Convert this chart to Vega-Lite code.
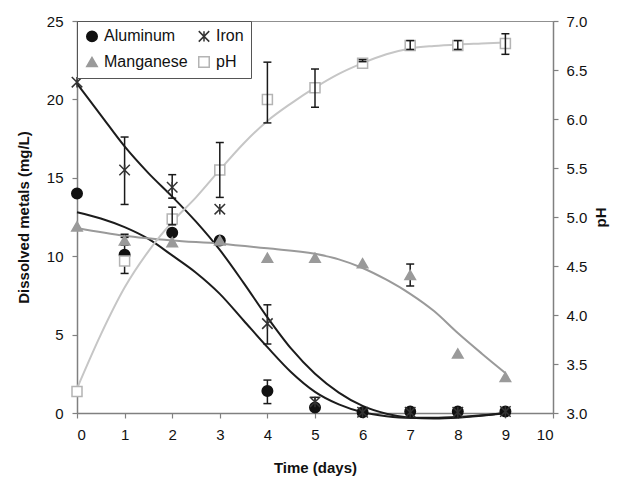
{
  "$schema": "https://vega.github.io/schema/vega-lite/v6.json",
  "width": 476,
  "height": 392,
  "autosize": {"type": "none"},
  "padding": {"left": 77, "top": 21, "right": 67, "bottom": 73},
  "config": {
    "font": "Liberation Sans",
    "view": {"stroke": "#909090", "strokeWidth": 1},
    "legend": {
      "gridAlign": "all",
      "labelLimit": 400,
      "columnPadding": 7,
      "rowPadding": 8
    },
    "axis": {
      "labelFont": "Liberation Sans",
      "labelFontSize": 15,
      "labelColor": "#111111",
      "titleFont": "Liberation Sans",
      "titleFontSize": 15,
      "titleFontWeight": "bold",
      "titleColor": "#111111",
      "domainColor": "#808080",
      "domainWidth": 1.5,
      "tickColor": "#808080",
      "tickWidth": 1.2,
      "tickSize": 5,
      "grid": false
    }
  },
  "datasets": {
    "pts": [
      {"series": "Aluminum", "t": 0, "v": 14.0},
      {"series": "Aluminum", "t": 1, "v": 10.1},
      {"series": "Aluminum", "t": 2, "v": 11.5},
      {"series": "Aluminum", "t": 3, "v": 11.0},
      {"series": "Aluminum", "t": 4, "v": 1.4},
      {"series": "Aluminum", "t": 5, "v": 0.35},
      {"series": "Aluminum", "t": 6, "v": 0.05},
      {"series": "Aluminum", "t": 7, "v": 0.1},
      {"series": "Aluminum", "t": 8, "v": 0.1},
      {"series": "Aluminum", "t": 9, "v": 0.1},
      {"series": "Iron", "t": 0, "v": 21.1},
      {"series": "Iron", "t": 1, "v": 15.5},
      {"series": "Iron", "t": 2, "v": 14.4},
      {"series": "Iron", "t": 3, "v": 13.0},
      {"series": "Iron", "t": 4, "v": 5.7},
      {"series": "Iron", "t": 5, "v": 0.7},
      {"series": "Iron", "t": 6, "v": 0.05},
      {"series": "Iron", "t": 7, "v": 0.05},
      {"series": "Iron", "t": 8, "v": 0.05},
      {"series": "Iron", "t": 9, "v": 0.1},
      {"series": "Manganese", "t": 0, "v": 11.9},
      {"series": "Manganese", "t": 1, "v": 11.0},
      {"series": "Manganese", "t": 2, "v": 10.9},
      {"series": "Manganese", "t": 3, "v": 11.0},
      {"series": "Manganese", "t": 4, "v": 9.9},
      {"series": "Manganese", "t": 5, "v": 9.9},
      {"series": "Manganese", "t": 6, "v": 9.55},
      {"series": "Manganese", "t": 7, "v": 8.8},
      {"series": "Manganese", "t": 8, "v": 3.8},
      {"series": "Manganese", "t": 9, "v": 2.3}
    ],
    "ph": [
      {"series": "pH", "t": 0, "v": 3.22},
      {"series": "pH", "t": 1, "v": 4.55},
      {"series": "pH", "t": 2, "v": 4.98},
      {"series": "pH", "t": 3, "v": 5.48},
      {"series": "pH", "t": 4, "v": 6.2},
      {"series": "pH", "t": 5, "v": 6.32},
      {"series": "pH", "t": 6, "v": 6.57},
      {"series": "pH", "t": 7, "v": 6.75},
      {"series": "pH", "t": 8, "v": 6.75},
      {"series": "pH", "t": 9, "v": 6.77}
    ],
    "merr": [
      {"series": "Aluminum", "t": 1, "lo": 8.9, "hi": 11.2},
      {"series": "Aluminum", "t": 4, "lo": 0.6, "hi": 2.1},
      {"series": "Iron", "t": 1, "lo": 13.3, "hi": 17.6},
      {"series": "Iron", "t": 2, "lo": 13.7, "hi": 15.2},
      {"series": "Iron", "t": 4, "lo": 4.4, "hi": 6.9},
      {"series": "Iron", "t": 5, "lo": 0.3, "hi": 1.0},
      {"series": "Manganese", "t": 1, "lo": 10.7, "hi": 11.4},
      {"series": "Manganese", "t": 7, "lo": 8.1, "hi": 9.5}
    ],
    "perr": [
      {"series": "pH", "t": 2, "lo": 4.92, "hi": 5.1},
      {"series": "pH", "t": 3, "lo": 5.2, "hi": 5.76},
      {"series": "pH", "t": 4, "lo": 5.96, "hi": 6.58},
      {"series": "pH", "t": 5, "lo": 6.12, "hi": 6.51},
      {"series": "pH", "t": 6, "lo": 6.585, "hi": 6.605},
      {"series": "pH", "t": 7, "lo": 6.71, "hi": 6.8},
      {"series": "pH", "t": 8, "lo": 6.71, "hi": 6.8},
      {"series": "pH", "t": 9, "lo": 6.66, "hi": 6.87}
    ],
    "mfit": [
      {"series": "Aluminum", "t": 0, "v": 12.8},
      {"series": "Aluminum", "t": 0.5, "v": 12.4},
      {"series": "Aluminum", "t": 1, "v": 11.85},
      {"series": "Aluminum", "t": 1.5, "v": 11.1},
      {"series": "Aluminum", "t": 2, "v": 10.05},
      {"series": "Aluminum", "t": 2.5, "v": 8.95},
      {"series": "Aluminum", "t": 3, "v": 7.6},
      {"series": "Aluminum", "t": 3.5, "v": 5.9},
      {"series": "Aluminum", "t": 4, "v": 4.2},
      {"series": "Aluminum", "t": 4.5, "v": 2.6},
      {"series": "Aluminum", "t": 5, "v": 1.35},
      {"series": "Aluminum", "t": 5.5, "v": 0.55},
      {"series": "Aluminum", "t": 6, "v": 0.05},
      {"series": "Aluminum", "t": 6.5, "v": -0.2},
      {"series": "Aluminum", "t": 7, "v": -0.3},
      {"series": "Aluminum", "t": 7.5, "v": -0.3},
      {"series": "Aluminum", "t": 8, "v": -0.25},
      {"series": "Aluminum", "t": 8.5, "v": -0.15},
      {"series": "Aluminum", "t": 9, "v": 0.0},
      {"series": "Iron", "t": 0, "v": 21.0},
      {"series": "Iron", "t": 0.5, "v": 19.0},
      {"series": "Iron", "t": 1, "v": 17.0},
      {"series": "Iron", "t": 1.5, "v": 15.3},
      {"series": "Iron", "t": 2, "v": 13.8},
      {"series": "Iron", "t": 2.5, "v": 12.2},
      {"series": "Iron", "t": 3, "v": 10.4},
      {"series": "Iron", "t": 3.5, "v": 8.3},
      {"series": "Iron", "t": 4, "v": 6.1},
      {"series": "Iron", "t": 4.5, "v": 4.1},
      {"series": "Iron", "t": 5, "v": 2.5},
      {"series": "Iron", "t": 5.5, "v": 1.3},
      {"series": "Iron", "t": 6, "v": 0.45},
      {"series": "Iron", "t": 6.5, "v": -0.05},
      {"series": "Iron", "t": 7, "v": -0.3},
      {"series": "Iron", "t": 7.5, "v": -0.35},
      {"series": "Iron", "t": 8, "v": -0.3},
      {"series": "Iron", "t": 8.5, "v": -0.18},
      {"series": "Iron", "t": 9, "v": 0.0},
      {"series": "Manganese", "t": 0, "v": 11.8},
      {"series": "Manganese", "t": 1, "v": 11.3},
      {"series": "Manganese", "t": 2, "v": 11.0},
      {"series": "Manganese", "t": 3, "v": 10.8},
      {"series": "Manganese", "t": 4, "v": 10.5},
      {"series": "Manganese", "t": 5, "v": 10.15},
      {"series": "Manganese", "t": 5.5, "v": 9.8},
      {"series": "Manganese", "t": 6, "v": 9.25},
      {"series": "Manganese", "t": 6.5, "v": 8.5},
      {"series": "Manganese", "t": 7, "v": 7.6},
      {"series": "Manganese", "t": 7.5, "v": 6.5},
      {"series": "Manganese", "t": 8, "v": 5.1},
      {"series": "Manganese", "t": 8.5, "v": 3.8},
      {"series": "Manganese", "t": 9, "v": 2.55}
    ],
    "pfit": [
      {"t": 0, "v": 3.25},
      {"t": 0.5, "v": 3.8},
      {"t": 1, "v": 4.28},
      {"t": 1.5, "v": 4.65},
      {"t": 2, "v": 4.95},
      {"t": 2.5, "v": 5.2},
      {"t": 3, "v": 5.48},
      {"t": 3.5, "v": 5.75},
      {"t": 4, "v": 5.98},
      {"t": 4.5, "v": 6.16},
      {"t": 5, "v": 6.32},
      {"t": 5.5, "v": 6.46},
      {"t": 6, "v": 6.57},
      {"t": 6.5, "v": 6.66},
      {"t": 7, "v": 6.72},
      {"t": 7.5, "v": 6.745},
      {"t": 8, "v": 6.76},
      {"t": 8.5, "v": 6.77},
      {"t": 9, "v": 6.78}
    ]
  },
  "encoding": {
    "x": {
      "field": "t",
      "type": "quantitative",
      "scale": {"domain": [0, 10], "nice": false},
      "axis": {
        "values": [0, 1, 2, 3, 4, 5, 6, 7, 8, 9, 10],
        "format": "d",
        "title": "Time (days)",
        "labelPadding": 9,
        "titlePadding": 18
      }
    }
  },
  "layer": [
    {
      "layer": [
        {
          "data": {"name": "mfit"},
          "transform": [{"filter": "datum.series !== 'Manganese'"}],
          "mark": {"type": "line", "interpolate": "monotone", "color": "#1c1c1c", "strokeWidth": 2},
          "encoding": {
            "y": {
              "field": "v",
              "type": "quantitative",
              "title": "Dissolved metals (mg/L)",
              "scale": {"domain": [0, 25], "nice": false},
              "axis": {
                "values": [0, 5, 10, 15, 20, 25],
                "title": "Dissolved metals (mg/L)",
                "labelPadding": 9,
                "titlePadding": 15
              }
            },
            "detail": {"field": "series"}
          }
        },
        {
          "data": {"name": "mfit"},
          "transform": [{"filter": "datum.series === 'Manganese'"}],
          "mark": {"type": "line", "interpolate": "monotone", "color": "#9a9a9a", "strokeWidth": 2},
          "encoding": {
            "y": {"field": "v", "type": "quantitative", "title": "Dissolved metals (mg/L)"}
          }
        },
        {
          "data": {"name": "merr"},
          "mark": {"type": "rule", "color": "#1a1a1a", "strokeWidth": 1.5},
          "encoding": {
            "y": {"field": "lo", "type": "quantitative", "title": "Dissolved metals (mg/L)"},
            "y2": {"field": "hi"}
          }
        },
        {
          "data": {"name": "merr"},
          "mark": {"type": "tick", "orient": "horizontal", "color": "#1a1a1a", "size": 8, "thickness": 1.5, "opacity": 1},
          "encoding": {
            "y": {"field": "lo", "type": "quantitative", "title": "Dissolved metals (mg/L)"}
          }
        },
        {
          "data": {"name": "merr"},
          "mark": {"type": "tick", "orient": "horizontal", "color": "#1a1a1a", "size": 8, "thickness": 1.5, "opacity": 1},
          "encoding": {
            "y": {"field": "hi", "type": "quantitative", "title": "Dissolved metals (mg/L)"}
          }
        },
        {
          "data": {"name": "pts"},
          "mark": {"type": "point", "opacity": 1, "strokeWidth": 1.5, "size": 110},
          "encoding": {
            "y": {"field": "v", "type": "quantitative", "title": "Dissolved metals (mg/L)"},
            "shape": {
              "field": "series",
              "type": "nominal",
              "scale": {
                "domain": ["Aluminum", "Iron", "Manganese", "pH"],
                "range": ["circle", "M-1,-1L1,1M-1,1L1,-1M0,-1L0,1", "triangle-up", "square"]
              },
              "legend": {
                "title": null,
                "orient": "none",
                "legendX": 0,
                "legendY": 0,
                "columns": 2,
                "direction": "horizontal",
                "gridAlign": "all",
                "strokeColor": "#555555",
                "fillColor": "#ffffff",
                "padding": 7,
                "labelFont": "Liberation Sans",
                "labelFontSize": 16,
                "labelColor": "#111111",
                "labelOffset": 4,
                "labelLimit": 400,
                "symbolSize": 110,
                "symbolStrokeWidth": 1.5,
                "columnPadding": 7,
                "rowPadding": 8
              }
            },
            "fill": {
              "field": "series",
              "type": "nominal",
              "scale": {
                "domain": ["Aluminum", "Iron", "Manganese", "pH"],
                "range": ["#111111", "transparent", "#9a9a9a", "#ffffff"]
              },
              "legend": null
            },
            "stroke": {
              "field": "series",
              "type": "nominal",
              "scale": {
                "domain": ["Aluminum", "Iron", "Manganese", "pH"],
                "range": ["#111111", "#333333", "#9a9a9a", "#b4b4b4"]
              },
              "legend": null
            }
          }
        }
      ]
    },
    {
      "layer": [
        {
          "data": {"name": "pfit"},
          "mark": {"type": "line", "interpolate": "monotone", "color": "#c6c6c6", "strokeWidth": 2},
          "encoding": {
            "y": {
              "field": "v",
              "type": "quantitative",
              "title": "pH",
              "scale": {"domain": [3, 7], "nice": false},
              "axis": {
                "orient": "right",
                "values": [3, 3.5, 4, 4.5, 5, 5.5, 6, 6.5, 7],
                "format": ".1f",
                "title": "pH",
                "titleAngle": 270,
                "labelPadding": 8,
                "titlePadding": 22
              }
            }
          }
        },
        {
          "data": {"name": "ph"},
          "mark": {"type": "point", "opacity": 1, "strokeWidth": 1.5, "size": 100},
          "encoding": {
            "y": {"field": "v", "type": "quantitative", "title": "pH"},
            "shape": {
              "field": "series",
              "type": "nominal",
              "scale": {
                "domain": ["Aluminum", "Iron", "Manganese", "pH"],
                "range": ["circle", "M-1,-1L1,1M-1,1L1,-1M0,-1L0,1", "triangle-up", "square"]
              },
              "legend": {
                "title": null,
                "orient": "none",
                "legendX": 0,
                "legendY": 0,
                "columns": 2,
                "direction": "horizontal",
                "gridAlign": "all",
                "strokeColor": "#555555",
                "fillColor": "#ffffff",
                "padding": 7,
                "labelFont": "Liberation Sans",
                "labelFontSize": 16,
                "labelColor": "#111111",
                "labelOffset": 4,
                "labelLimit": 400,
                "symbolSize": 110,
                "symbolStrokeWidth": 1.5,
                "columnPadding": 7,
                "rowPadding": 8
              }
            },
            "fill": {
              "field": "series",
              "type": "nominal",
              "scale": {
                "domain": ["Aluminum", "Iron", "Manganese", "pH"],
                "range": ["#111111", "transparent", "#9a9a9a", "#ffffff"]
              },
              "legend": null
            },
            "stroke": {
              "field": "series",
              "type": "nominal",
              "scale": {
                "domain": ["Aluminum", "Iron", "Manganese", "pH"],
                "range": ["#111111", "#333333", "#9a9a9a", "#b4b4b4"]
              },
              "legend": null
            }
          }
        },
        {
          "data": {"name": "perr"},
          "mark": {"type": "rule", "color": "#1a1a1a", "strokeWidth": 1.5},
          "encoding": {
            "y": {"field": "lo", "type": "quantitative", "title": "pH"},
            "y2": {"field": "hi"}
          }
        },
        {
          "data": {"name": "perr"},
          "mark": {"type": "tick", "orient": "horizontal", "color": "#1a1a1a", "size": 8, "thickness": 1.5, "opacity": 1},
          "encoding": {
            "y": {"field": "lo", "type": "quantitative", "title": "pH"}
          }
        },
        {
          "data": {"name": "perr"},
          "mark": {"type": "tick", "orient": "horizontal", "color": "#1a1a1a", "size": 8, "thickness": 1.5, "opacity": 1},
          "encoding": {
            "y": {"field": "hi", "type": "quantitative", "title": "pH"}
          }
        }
      ]
    }
  ],
  "resolve": {"scale": {"y": "independent"}}
}
